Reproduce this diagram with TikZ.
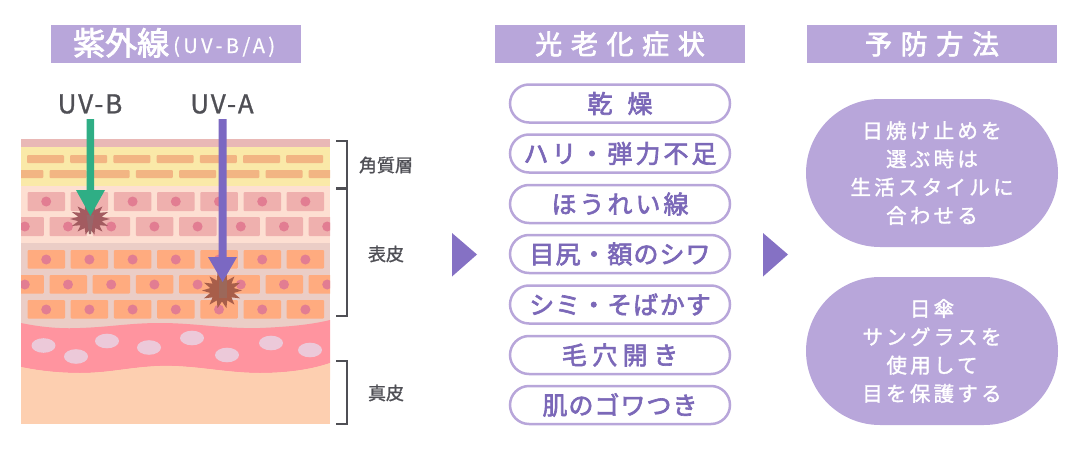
\documentclass[tikz,border=0pt]{standalone}
\usepackage{fontspec}
\setmainfont{Noto Sans CJK JP}
\newfontfamily\jphead[LetterSpace=32,FakeBold=2.5]{Noto Sans CJK JP}
\newfontfamily\jphb[FakeBold=2.5]{Noto Sans CJK JP}
\newfontfamily\jppill[LetterSpace=12,FakeBold=2.5]{Noto Sans CJK JP}
\newfontfamily\jppilln[LetterSpace=4,FakeBold=2.5]{Noto Sans CJK JP}
\newfontfamily\jppillw[LetterSpace=22,FakeBold=2.5]{Noto Sans CJK JP}
\newfontfamily\jpbig[LetterSpace=16,FakeBold=1.6]{Noto Sans CJK JP}
\newfontfamily\jplab[FakeBold=1.2]{Noto Sans CJK JP}
\newfontfamily\jpuv[LetterSpace=7,FakeBold=1]{Noto Sans CJK JP}
\newfontfamily\jpuvs[LetterSpace=17,FakeBold=0.6]{Noto Sans CJK JP}
\definecolor{hdr}{HTML}{B8A6DA}
\definecolor{txtp}{HTML}{7B68B8}
\definecolor{darkl}{HTML}{4F4F55}
\definecolor{tri}{HTML}{8571C4}
\definecolor{bandtop}{HTML}{E9B8B6}
\definecolor{yel}{HTML}{FAE9A8}
\definecolor{brickY}{HTML}{F2B583}
\definecolor{upper}{HTML}{FDDFD2}
\definecolor{lower}{HTML}{EBCDC6}
\definecolor{brickP}{HTML}{EFB0AE}
\definecolor{brickO}{HTML}{FFAB7F}
\definecolor{nuc}{HTML}{E27D92}
\definecolor{derm}{HTML}{FF949F}
\definecolor{base}{HTML}{FDCFB0}
\definecolor{cellw}{HTML}{ECC9D9}
\definecolor{uvb}{HTML}{2FAE85}
\definecolor{uva}{HTML}{7B68C2}
\definecolor{starb}{HTML}{A35B60}
\definecolor{stara}{HTML}{A85E4A}
\tikzset{
  header/.style={fill=hdr,draw=none,minimum width=250pt,minimum height=38pt,inner sep=0,text=white,font=\jphead\fontsize{27}{27}\selectfont},
  sympill/.style={draw=hdr,line width=2.5pt,fill=white,rounded corners=19pt,minimum width=220pt,minimum height=38pt,inner sep=0,text=txtp,font=\jppill\fontsize{25}{25}\selectfont},
  bigpill/.style={fill=hdr,draw=none,rounded corners=74pt,minimum width=252pt,minimum height=148pt,inner sep=0,text=white,align=center,font=\jpbig\fontsize{20.5}{28.3}\selectfont},
  layerlab/.style={text=darkl,inner sep=0,font=\jplab\fontsize{18}{18}\selectfont},
  uvlab/.style={text=darkl,inner sep=0,font=\jpuv\fontsize{26}{26}\selectfont},
  bracket/.style={draw=darkl,line width=2pt},
  cellwhite/.style={fill=cellw,draw=none},
  nextarrow/.style={fill=tri,draw=none}
}
\begin{document}
\begin{tikzpicture}[x=1pt,y=-1pt]
\useasboundingbox (0,0) rectangle (1080,450);
% skin layers
\fill[base] (21,139) rectangle (330,424);
\fill[bandtop] (21,139) rectangle (330,147);
\fill[yel] (21,147) rectangle (330,186);
\fill[upper] (21,186) rectangle (330,243);
\fill[lower] (21,243) rectangle (330,335);
\begin{scope}
\clip (21,139) rectangle (330,424);
% stratum corneum bricks
\foreach \i in {0,...,6} \fill[brickY,rounded corners=1pt] ({27+43.2*\i},155) rectangle ++(37,8);
\foreach \i in {-1,...,6} \fill[brickY,rounded corners=1pt] ({49.5+43.2*\i},170) rectangle ++(37,8);
% pink cells
\foreach \i in {0,...,6} {
  \fill[brickP,rounded corners=1pt] ({27.5+43.2*\i},192) rectangle ++(37.5,19);
  \fill[nuc] ({46.2+43.2*\i},201.5) circle (5);
}
\foreach \i in {-1,...,6} {
  \fill[brickP,rounded corners=1pt] ({49.5+43.2*\i},217) rectangle ++(37.5,19);
  \fill[nuc] ({68+43.2*\i},226.5) circle (5);
}
% orange cells
\foreach \i in {0,...,6} {
  \fill[brickO,rounded corners=1pt] ({27.5+43.2*\i},250) rectangle ++(37.5,18.5);
  \fill[nuc] ({46.2+43.2*\i},259.5) circle (5);
  \fill[brickO,rounded corners=1pt] ({27.5+43.2*\i},300) rectangle ++(37.5,18.5);
  \fill[nuc] ({46.2+43.2*\i},309.5) circle (5);
}
\foreach \i in {-1,...,6} {
  \fill[brickO,rounded corners=1pt] ({49.5+43.2*\i},275) rectangle ++(37.5,18.5);
  \fill[nuc] ({68+43.2*\i},284.5) circle (5);
}
\end{scope}
% dermis
\fill[derm] (21,323) .. controls (40,327) and (60,329) .. (80,328)
  .. controls (110,327) and (130,323) .. (160,323)
  .. controls (195,323) and (225,329) .. (260,328)
  .. controls (285,327) and (310,325) .. (330,320)
  -- (330,363) .. controls (310,370) and (285,373) .. (260,373)
  .. controls (225,373) and (195,365) .. (160,366)
  .. controls (130,367) and (110,373) .. (80,373)
  .. controls (60,373) and (40,371) .. (21,367) -- cycle;
\fill[base] (21,367) .. controls (40,371) and (60,373) .. (80,373)
  .. controls (110,373) and (130,367) .. (160,366)
  .. controls (195,365) and (225,373) .. (260,373)
  .. controls (285,373) and (310,370) .. (330,363) -- (330,380) -- (21,380) -- cycle;
\foreach \x/\y in {43.5/345.5,76/356.5,107/341,149/347.5,192/338,227/355,271/343,310/350}
  \fill[cellwhite] (\x,\y) ellipse (12 and 7.3);
% damage stars
\fill[starb] (110,219) \foreach \i in {1,...,27} { -- ({90+(20-8*mod(\i,2))*cos(\i*12.857)},{219+(16-6*mod(\i,2))*sin(\i*12.857)})} -- cycle;
\fill[stara] (242,290.5) \foreach \i in {1,...,27} { -- ({222+(20-8*mod(\i,2))*cos(\i*12.857)},{290.5+(18-7*mod(\i,2))*sin(\i*12.857)})} -- cycle;
\fill[starb!70!gray] (86.5,215) -- (94,215) -- (91,234) -- (89,234) -- cycle;
\fill[stara!70!gray] (218.7,280) -- (226.7,280) -- (226.7,298) -- (218.7,298) -- cycle;
% UV arrows
\fill[uvb] (86.7,119) -- (94.2,119) -- (94.2,190) -- (105,190) -- (90.4,216) -- (76,190) -- (86.7,190) -- cycle;
\fill[uva] (218.7,119) -- (226.7,119) -- (226.7,257) -- (237,257) -- (222.6,282) -- (208,257) -- (218.7,257) -- cycle;
\node[uvlab] (uvb) at (90,104) {UV-B};
\node[uvlab] (uva) at (222,104) {UV-A};
% brackets
\draw[bracket] (336,141) -- (347,141) -- (347,188) -- (336,188);
\draw[bracket] (336,189) -- (347,189) -- (347,316) -- (336,316);
\draw[bracket] (336,361) -- (347,361) -- (347,424) -- (336,424);
\node[layerlab] (l1) at (386,165) {角質層};
\node[layerlab] (l2) at (386,254) {表皮};
\node[layerlab] (l3) at (386,393) {真皮};
% headers
\node[header] (h1) at (175.5,44) {};
\node[text=white,inner sep=0,anchor=base west] (h1a) at (73,55) {\jphb\fontsize{32}{32}\selectfont 紫外線};
\node[text=white,inner sep=0,anchor=base west] (h1b) at (173,53) {\jpuvs\fontsize{20}{20}\selectfont (UV-B/A)};
\node[header] (h2) at (620,44) {光老化症状};
\node[header] (h3) at (932,44) {予防方法};
% triangles
\fill[nextarrow] (452,233) -- (477,254.5) -- (452,276.5) -- cycle;
\fill[nextarrow] (763,233) -- (788,254.5) -- (763,276.5) -- cycle;
% symptoms
\node[sympill] (s1) at (620,103.5) {乾\hspace{15pt}燥};
\node[sympill] (s2) at (620,153.5) {ハリ・弾力不足};
\node[sympill] (s3) at (620,204) {ほうれい線};
\node[sympill,font=\jppilln\fontsize{25}{25}\selectfont] (s4) at (620,254) {目尻・額のシワ};
\node[sympill,font=\jppilln\fontsize{25}{25}\selectfont] (s5) at (620,304.5) {シミ・そばかす};
\node[sympill,font=\jppillw\fontsize{25}{25}\selectfont] (s6) at (620,355) {毛穴開き};
\node[sympill,font=\jppilln\fontsize{25}{25}\selectfont] (s7) at (620,405) {肌のゴワつき};
% prevention
\node[bigpill] (p1) at (932,173) {日焼け止めを\\選ぶ時は\\生活スタイルに\\合わせる};
\node[bigpill] (p2) at (932,351) {日傘\\サングラスを\\使用して\\目を保護する};
\end{tikzpicture}
\end{document}
